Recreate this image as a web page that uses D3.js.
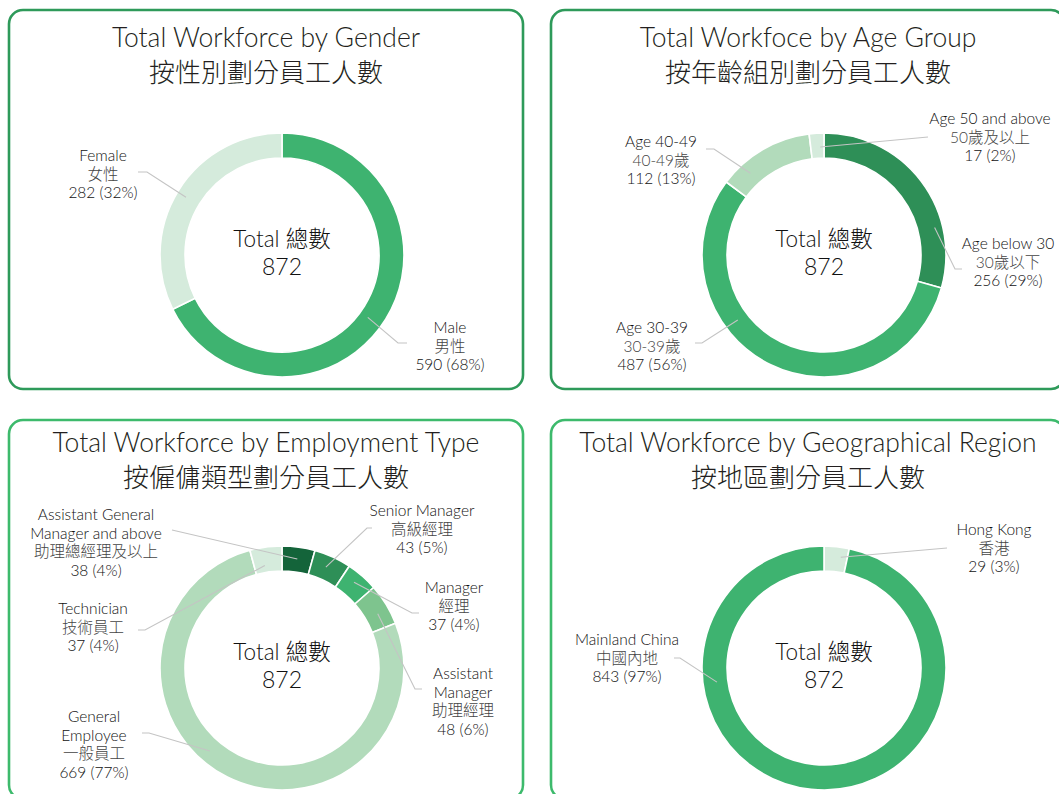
<!DOCTYPE html>
<html>
<head>
<meta charset="utf-8">
<script src="https://cdn.jsdelivr.net/npm/d3@7"></script>
<style>
  html, body { margin: 0; padding: 0; background: #fff; overflow: hidden; }
  svg { display: block; }
  text { font-family: Lato, "Noto Sans CJK TC", "Noto Sans", sans-serif; fill: #231f20; }
</style>
</head>
<body>
<svg id="chart" width="1059" height="794"></svg>
<script>
// ---------- DATA ----------
const total = 872;

const genderEn = [["Male"], ["Female"]];
const genderZh = ["男性", "女性"];
const genderValues = [590, 282];

const ageEn = [["Age below 30"], ["Age 30-39"], ["Age 40-49"], ["Age 50 and above"]];
const ageZh = ["30歲以下", "30-39歲", "40-49歲", "50歲及以上"];
const ageValues = [256, 487, 112, 17];

const typeEn = [["Assistant General", "Manager and above"], ["Senior Manager"], ["Manager"],
                ["Assistant", "Manager"], ["General", "Employee"], ["Technician"]];
const typeZh = ["助理總經理及以上", "高級經理", "經理", "助理經理", "一般員工", "技術員工"];
const typeValues = [38, 43, 37, 48, 669, 37];

const regionEn = [["Hong Kong"], ["Mainland China"]];
const regionZh = ["香港", "中國內地"];
const regionValues = [29, 843];

const titlesEn = ["Total Workforce by Gender", "Total Workfoce by Age Group",
                  "Total Workforce by Employment Type", "Total Workforce by Geographical Region"];
const titlesZh = ["按性別劃分員工人數", "按年齡組別劃分員工人數", "按僱傭類型劃分員工人數", "按地區劃分員工人數"];

// ---------- STYLE / LAYOUT ----------
const C = { d0: "#14643a", d1: "#2e8f57", mid: "#3eb370", l1: "#7ec48e", l2: "#b2dbbb", l3: "#d5ebdc" };

// label layout relative to ring centre: t = text anchor (centre x, first baseline),
// a = leader start angle (deg, clockwise from top), r = leader start radius, pts = leader path points
const panels = [
  { x: 9, y: 10, border: "#2e9a5a", tx: 266, ty: 47, cx: 282, cy: 255,
    en: genderEn, zh: genderZh, values: genderValues, colors: [C.mid, C.l3],
    labels: [
      { t: [168, 78], a: 126, r: 106, pts: [[116, 88], [125, 88]] },
      { t: [-179, -94], a: 301, r: 112, pts: [[-135, -83], [-144, -83]] }
    ] },
  { x: 551, y: 10, border: "#2e9a5a", tx: 808, ty: 47, cx: 824, cy: 255,
    en: ageEn, zh: ageZh, values: ageValues, colors: [C.d1, C.mid, C.l2, C.l3],
    labels: [
      { t: [184, -6], a: 76, r: 114, pts: [[131, 14], [138, 14]] },
      { t: [-172, 78], a: 233, r: 108, pts: [[-122, 88], [-129, 88]] },
      { t: [-163, -108], a: 318, r: 110, pts: [[-110, -106], [-118, -106]] },
      { t: [166, -131], a: 358, r: 108, pts: [[104, -118]] }
    ] },
  { x: 9, y: 420, border: "#3dba6c", tx: 266, ty: 452, cx: 282, cy: 668,
    en: typeEn, zh: typeZh, values: typeValues, colors: [C.d0, C.d1, C.mid, C.l1, C.l2, C.l3],
    labels: [
      { t: [-186, -148], a: 8, r: 110, pts: [[-110, -138]] },
      { t: [140, -152], a: 23.5, r: 110, pts: [[85, -140], [90, -140]] },
      { t: [172, -75], a: 40, r: 112, pts: [[130, -55], [137, -55]] },
      { t: [181, 11], a: 60.5, r: 110, pts: [[133, 21], [140, 21]] },
      { t: [-188, 54], a: 221, r: 110, pts: [[-133, 65], [-140, 65]] },
      { t: [-189, -54], a: 350.5, r: 104, pts: [[-137, -38], [-144, -38]] }
    ] },
  { x: 551, y: 420, border: "#3dba6c", tx: 808, ty: 452, cx: 824, cy: 668,
    en: regionEn, zh: regionZh, values: regionValues, colors: [C.l3, C.mid],
    labels: [
      { t: [170, -133], a: 8.6, r: 112, pts: [[123, -120]] },
      { t: [-197, -23], a: 262.5, r: 108, pts: [[-144, -10], [-150, -10]] }
    ] }
];

const W = 514, H = 379, rOut = 122, rIn = 97;
const lineH = 18.7;

const svg = d3.select("#chart");

const pie = d3.pie().sort(null).value(d => d);
const arc = d3.arc().innerRadius(rIn).outerRadius(rOut);

panels.forEach((p, i) => {
  // border
  svg.append("rect")
    .attr("x", p.x).attr("y", p.y).attr("width", W).attr("height", H)
    .attr("rx", 14).attr("ry", 14)
    .attr("fill", "#fff").attr("stroke", p.border).attr("stroke-width", 2.6);

  // titles
  svg.append("text").attr("x", p.tx).attr("y", p.ty)
    .attr("text-anchor", "middle").attr("font-size", 26.5).attr("font-weight", 300)
    .attr("fill", "#1a1a1a")
    .text(titlesEn[i]);
  svg.append("text").attr("x", p.tx).attr("y", p.ty + 35)
    .attr("text-anchor", "middle").attr("font-size", 26).attr("font-weight", 300)
    .style("font-family", "'Noto Sans CJK TC', sans-serif")
    .text(titlesZh[i]);

  const g = svg.append("g").attr("transform", `translate(${p.cx},${p.cy})`);

  const color = d3.scaleOrdinal().domain(d3.range(p.values.length)).range(p.colors);

  g.selectAll("path.slice")
    .data(pie(p.values))
    .join("path")
    .attr("class", "slice")
    .attr("d", arc)
    .attr("fill", (d, j) => color(j))
    .attr("stroke", "#fff").attr("stroke-width", 1.6);

  // centre text
  g.append("text").attr("x", 0).attr("y", -8).attr("text-anchor", "middle")
    .attr("font-size", 22.5).attr("font-weight", 300).style("fill", "#111").text("Total 總數");
  g.append("text").attr("x", 0).attr("y", 20).attr("text-anchor", "middle")
    .attr("font-size", 23).attr("font-weight", 300).style("fill", "#111").text(total);

  // leaders + labels
  p.labels.forEach((L, j) => {
    const ang = L.a * Math.PI / 180;
    const start = [L.r * Math.sin(ang), -L.r * Math.cos(ang)];
    g.append("path")
      .attr("d", d3.line()([start, ...L.pts]))
      .attr("fill", "none").attr("stroke", "#c4c4c4").attr("stroke-width", 1.1);

    const pct = Math.round(p.values[j] / total * 100);
    const lines = [...p.en[j], p.zh[j], `${p.values[j]} (${pct}%)`];
    const t = g.append("text").attr("text-anchor", "middle")
      .attr("font-size", 15.5).attr("font-weight", 300);
    lines.forEach((s, k) => {
      t.append("tspan").attr("x", L.t[0]).attr("y", L.t[1] + k * lineH)
        .style("fill", k === p.en[j].length ? "#444" : "#111")
        .text(s);
    });
  });
});
</script>
</body>
</html>
